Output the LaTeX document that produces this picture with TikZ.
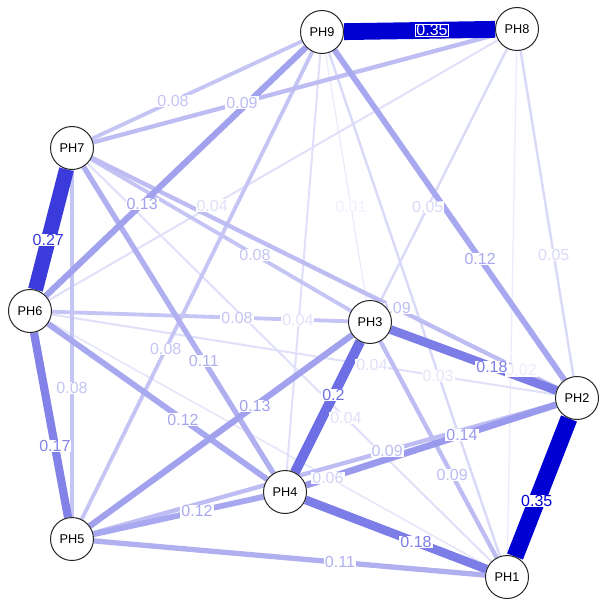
\documentclass[tikz,border=0pt]{standalone}
\usepackage{fontspec}
\setmainfont{Liberation Sans}
\usetikzlibrary{calc}
\definecolor{eb}{RGB}{0,0,210}
\pgfdeclarelayer{bg}
\pgfdeclarelayer{mid}
\pgfsetlayers{bg,mid,main}
\begin{document}
\begin{tikzpicture}[x=1pt,y=-1pt,
  ed/.style 2 args={line width=#1pt, draw=eb!#2!white, line cap=butt},
  lb/.style={fill=white, text=eb!#1!white, inner xsep=1pt, inner ysep=0.5pt, font=\fontsize{16}{16}\selectfont},
  lbx/.style={fill=eb, draw=white, line width=1pt, text=white, inner xsep=1pt, inner ysep=0.5pt, font=\fontsize{16}{16}\selectfont},
  ph/.style={circle, draw=black!85, line width=1pt, fill=white, minimum size=43pt, inner sep=0pt, font=\fontsize{12.7}{13}\selectfont}]
\useasboundingbox (0,0) rectangle (604,604);
\begin{pgfonlayer}{bg}
\fill[white] (0,0) rectangle (604,604);
\end{pgfonlayer}
% nodes
\node[ph] (PH1) at (507,577) {PH1};
\node[ph] (PH2) at (577,398) {PH2};
\node[ph] (PH3) at (370,322) {PH3};
\node[ph] (PH4) at (285,492) {PH4};
\node[ph] (PH5) at (72,539) {PH5};
\node[ph] (PH6) at (30,311) {PH6};
\node[ph] (PH7) at (72,148) {PH7};
\node[ph] (PH8) at (517,29) {PH8};
\node[ph] (PH9) at (322,32) {PH9};
% edges
\begin{pgfonlayer}{bg}
\draw[ed={1.2}{8}] (PH9) -- (PH3);
\draw[ed={1.2}{8}] (PH8) -- (PH1);
\draw[ed={1.5}{10}] (PH6) -- (PH1);
\draw[ed={2}{12}] (PH9) -- (PH4);
\draw[ed={2}{12}] (PH8) -- (PH6);
\draw[ed={2}{12}] (PH7) -- (PH1);
\draw[ed={2}{12}] (PH6) -- (PH2);
\draw[ed={2.4}{15}] (PH9) -- (PH1);
\draw[ed={2.4}{15}] (PH8) -- (PH3);
\draw[ed={2.4}{15}] (PH8) -- (PH2);
\draw[ed={3.8}{23}] (PH7) -- (PH9);
\draw[ed={3.8}{23}] (PH7) -- (PH3);
\draw[ed={3.8}{23}] (PH7) -- (PH5);
\draw[ed={3.8}{23}] (PH6) -- (PH3);
\draw[ed={3.8}{23}] (PH9) -- (PH5);
\draw[ed={4.3}{26}] (PH7) -- (PH8);
\draw[ed={4.3}{26}] (PH7) -- (PH2);
\draw[ed={4.3}{26}] (PH5) -- (PH2);
\draw[ed={4.3}{26}] (PH3) -- (PH1);
\draw[ed={5.3}{31}] (PH7) -- (PH4);
\draw[ed={5.3}{31}] (PH5) -- (PH1);
\draw[ed={5.8}{34}] (PH9) -- (PH2);
\draw[ed={5.8}{34}] (PH6) -- (PH4);
\draw[ed={5.8}{34}] (PH5) -- (PH4);
\draw[ed={6.2}{37}] (PH6) -- (PH9);
\draw[ed={6.2}{37}] (PH5) -- (PH3);
\draw[ed={6.7}{40}] (PH4) -- (PH2);
\draw[ed={8.2}{49}] (PH6) -- (PH5);
\draw[ed={8.8}{51}] (PH3) -- (PH2);
\draw[ed={8.8}{51}] (PH4) -- (PH1);
\draw[ed={10}{57}] (PH3) -- (PH4);
\draw[ed={15}{77}] (PH7) -- (PH6);
\draw[ed={16.8}{100}] (PH9) -- (PH8);
\draw[ed={17}{100}] (PH2) -- (PH1);
\end{pgfonlayer}
% labels
\begin{pgfonlayer}{mid}
\node[lb=6] (l01) at ($(PH9)!0.603!(PH3)$) {0.01};
\node[lb=8, yshift=7pt] (l02) at ($(PH3)!0.73!(PH2)$) {0.02};
\node[lb=10] (l03) at ($(PH6)!0.746!(PH2)$) {0.03};
\node[lb=12] (l04a) at ($(PH8)!0.626!(PH6)$) {0.04};
\node[lb=12] (l04b) at ($(PH7)!0.63!(PH1)$) {0.04};
\node[lb=12] (l04c) at ($(PH6)!0.625!(PH2)$) {0.04};
\node[lb=12] (l04d) at ($(PH6)!0.788!(PH3)$) {0.04};
\node[lb=15] (l05a) at ($(PH8)!0.607!(PH3)$) {0.05};
\node[lb=15] (l05b) at ($(PH8)!0.612!(PH2)$) {0.05};
\node[lb=18] (l06) at ($(PH4)!0.147!(PH2)$) {0.06};
\node[lb=23] (l08a) at ($(PH7)!0.404!(PH9)$) {0.08};
\node[lb=23] (l08b) at ($(PH7)!0.614!(PH3)$) {0.08};
\node[lb=23] (l08c) at ($(PH7)!0.614!(PH5)$) {0.08};
\node[lb=23] (l08d) at ($(PH6)!0.609!(PH3)$) {0.08};
\node[lb=23] (l08e) at ($(PH9)!0.625!(PH5)$) {0.08};
\node[lb=26] (l09a) at ($(PH7)!0.382!(PH8)$) {0.09};
\node[lb=26] (l09b) at ($(PH7)!0.64!(PH2)$) {0.09};
\node[lb=26] (l09c) at ($(PH5)!0.624!(PH2)$) {0.09};
\node[lb=26] (l09d) at ($(PH3)!0.6!(PH1)$) {0.09};
\node[lb=31] (l11a) at ($(PH7)!0.619!(PH4)$) {0.11};
\node[lb=31] (l11b) at ($(PH5)!0.616!(PH1)$) {0.11};
\node[lb=34] (l12a) at ($(PH9)!0.62!(PH2)$) {0.12};
\node[lb=34] (l12b) at ($(PH6)!0.6!(PH4)$) {0.12};
\node[lb=34] (l12c) at ($(PH5)!0.587!(PH4)$) {0.12};
\node[lb=37] (l13a) at ($(PH6)!0.384!(PH9)$) {0.13};
\node[lb=37] (l13b) at ($(PH5)!0.614!(PH3)$) {0.13};
\node[lb=40] (l14) at ($(PH4)!0.606!(PH2)$) {0.14};
\node[lb=49] (l17) at ($(PH6)!0.592!(PH5)$) {0.17};
\node[lb=51] (l18a) at ($(PH3)!0.589!(PH2)$) {0.18};
\node[lb=51] (l18b) at ($(PH4)!0.59!(PH1)$) {0.18};
\node[lb=57] (l20) at ($(PH3)!0.43!(PH4)$) {0.2};
\node[lb=77] (l27) at ($(PH7)!0.564!(PH6)$) {0.27};
\node[lb=100] (l35a) at ($(PH2)!0.575!(PH1)$) {0.35};
\node[lbx] (l35b) at ($(PH9)!0.564!(PH8)$) {0.35};
\end{pgfonlayer}
\end{tikzpicture}
\end{document}
